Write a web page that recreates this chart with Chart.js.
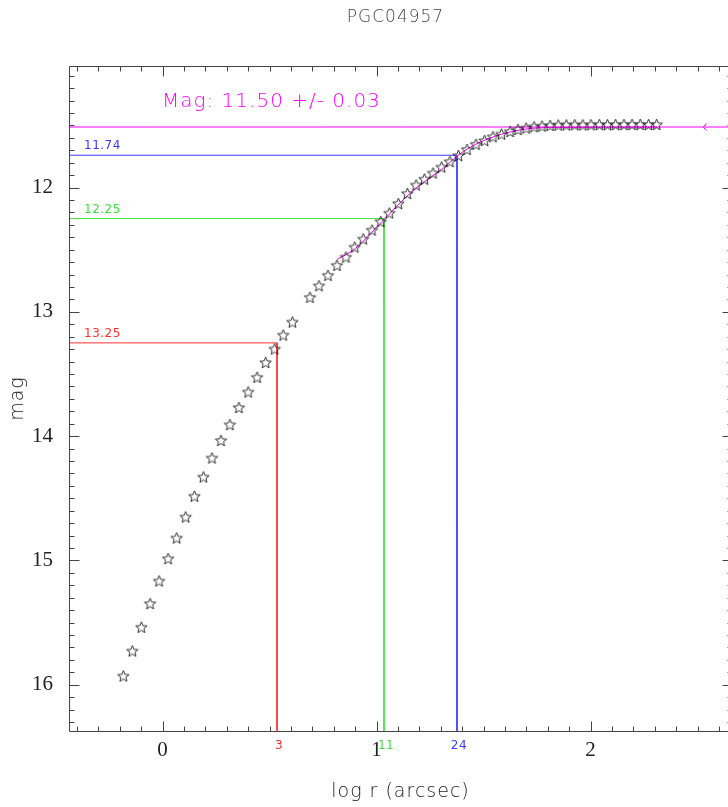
<!DOCTYPE html>
<html><head><meta charset="utf-8">
<script src="https://cdn.jsdelivr.net/npm/chart.js@4.4.1/dist/chart.umd.min.js"></script>
<style>html,body{margin:0;padding:0;overflow:hidden;background:#fff;width:728px;height:807px}canvas{display:block}</style>
</head><body>
<canvas id="c" width="740" height="807"></canvas>
<script>
// ---- data ----
const titleText = 'PGC04957';
const xTitle = 'log r (arcsec)';
const yTitle = 'mag';
const magLabel = 'Mag: 11.50 +/- 0.03';
const logR = [-0.183,-0.141,-0.099,-0.058,-0.016,0.026,0.066,0.108,0.149,0.191,0.231,0.273,0.315,0.357,0.400,0.442,0.482,0.524,0.564,0.607,
  0.689,0.731,0.773,0.815,0.857,0.898,0.938,0.979,1.020,1.060,1.102,1.144,1.185,1.224,1.264,1.304,1.343,1.383,1.423,1.465,1.505,1.544,1.584,1.624,1.661,1.699,1.736,
  1.773,1.811,1.849,1.887,1.926,1.964,2.002,2.041,2.079,2.117,2.156,2.194,2.232,2.271,2.309];
const mags = [15.930,15.729,15.538,15.348,15.166,14.986,14.820,14.651,14.484,14.329,14.176,14.035,13.908,13.770,13.645,13.527,13.408,13.299,13.187,13.082,
  12.883,12.790,12.706,12.626,12.559,12.479,12.414,12.342,12.274,12.205,12.129,12.048,11.980,11.932,11.883,11.835,11.791,11.743,11.693,11.652,11.622,11.591,11.570,11.549,11.533,11.521,11.511,
  11.505,11.500,11.497,11.496,11.495,11.496,11.495,11.494,11.495,11.494,11.494,11.493,11.493,11.494,11.493];
const fitLogR = [0.815,0.898,0.979,1.035,1.143,1.224,1.304,1.376,1.437,1.530,1.624,1.717,1.825,2.311];
const fitMag = [12.579,12.495,12.358,12.257,12.068,11.952,11.855,11.747,11.676,11.602,11.553,11.525,11.516,11.513];
const totalMag = 11.513;
const arrowLogR = 2.527;
const levelMag = [13.25, 12.25, 11.74];
const levelLogR = [0.535, 1.035, 1.376];
const levelMagText = ['13.25', '12.25', '11.74'];
const levelRadiusText = ['3', '11', '24'];
const xTicks = [0, 1, 2];
const yTicks = [12, 13, 14, 15, 16];
const xRange = [-0.437, 2.661];
const yRange = [11.022, 16.373];

// ---- styles ----
const levelColors = ['#ff3030', '#3ee03e', '#3a3aff'];
const magenta = '#ff00ff';
const frameColor = '#444';
const hersheyFont = '300 19px "DejaVu Sans"';

function makeStar() {
  const s = 15, c = document.createElement('canvas');
  c.width = s; c.height = s;
  const g = c.getContext('2d');
  g.strokeStyle = '#111'; g.lineWidth = 0.85;
  g.beginPath();
  const R = 6, r = 2.6, cx = s / 2, cy = s / 2 + 0.5;
  for (let i = 0; i < 10; i++) {
    const a = -Math.PI / 2 + i * Math.PI / 5;
    const rad = i % 2 ? r : R;
    const px = cx + rad * Math.cos(a), py = cy + rad * Math.sin(a);
    if (i) g.lineTo(px, py); else g.moveTo(px, py);
  }
  g.closePath(); g.stroke();
  return c;
}
const starImg = makeStar();

const datasets = [];
datasets.push({
  label: 'profile', data: logR.map((x, i) => ({x, y: mags[i]})),
  showLine: false, pointStyle: starImg, pointRadius: 6, pointHoverRadius: 6
});
datasets.push({
  label: 'fit', data: fitLogR.map((x, i) => ({x, y: fitMag[i]})),
  showLine: true, borderColor: magenta, borderWidth: 1, pointRadius: 0, cubicInterpolationMode: 'monotone'
});
datasets.push({
  label: 'total', data: [{x: xRange[0], y: totalMag}, {x: xRange[1], y: totalMag}],
  showLine: true, borderColor: magenta, borderWidth: 1, pointRadius: 0
});
levelMag.forEach((m, i) => {
  datasets.push({
    label: 'level' + i,
    data: [{x: xRange[0], y: m}, {x: levelLogR[i], y: m}, {x: levelLogR[i], y: yRange[1]}],
    showLine: true, borderColor: levelColors[i], borderWidth: 1, pointRadius: 0, tension: 0
  });
});

const decor = {
  id: 'decor',
  afterDraw(chart) {
    const ctx = chart.ctx, ca = chart.chartArea;
    const xs = chart.scales.x, ys = chart.scales.y;
    ctx.save();
    // frame
    ctx.strokeStyle = frameColor; ctx.lineWidth = 1;
    const L = Math.round(ca.left) + 0.5, R = Math.round(ca.right) + 0.5, T = Math.round(ca.top) + 0.5, B = Math.round(ca.bottom) + 0.5;
    ctx.beginPath();
    ctx.moveTo(L, T); ctx.lineTo(R, T); ctx.lineTo(R, B); ctx.lineTo(L, B); ctx.closePath();
    for (let k = -4; k <= 26; k++) {
      const v = k / 10, px = Math.round(xs.getPixelForValue(v)) + 0.5;
      const len = (k % 10 === 0) ? 10 : 5;
      ctx.moveTo(px, B); ctx.lineTo(px, B - len);
      ctx.moveTo(px, T); ctx.lineTo(px, T + len);
    }
    for (let k = 111; k <= 163; k++) {
      const v = k / 10, py = Math.round(ys.getPixelForValue(v)) + 0.5;
      const len = (k % 10 === 0) ? 10 : 5;
      ctx.moveTo(L, py); ctx.lineTo(L + len, py);
      ctx.moveTo(R, py); ctx.lineTo(R - len, py);
    }
    ctx.stroke();

    // arrow
    const ax = xs.getPixelForValue(arrowLogR), ay = ys.getPixelForValue(totalMag);
    ctx.strokeStyle = magenta; ctx.beginPath();
    ctx.moveTo(ax + 3, ay - 3.5); ctx.lineTo(ax, ay); ctx.lineTo(ax + 3, ay + 3.5); ctx.stroke();

    // texts
    ctx.letterSpacing = '1px';
    ctx.textAlign = 'center'; ctx.textBaseline = 'middle';
    ctx.fillStyle = '#444'; ctx.font = '300 17px "DejaVu Sans"';
    ctx.fillText(titleText, (ca.left + ca.right) / 2 - 5, 18);
    ctx.fillStyle = '#222'; ctx.font = hersheyFont;
    ctx.fillText(xTitle, (ca.left + ca.right) / 2, 792);
    ctx.save();
    ctx.translate(18, (ca.top + ca.bottom) / 2);
    ctx.rotate(-Math.PI / 2);
    ctx.fillText(yTitle, 0, 0);
    ctx.restore();

    ctx.textAlign = 'left'; ctx.textBaseline = 'alphabetic';
    ctx.fillStyle = magenta; ctx.font = '300 20px "DejaVu Sans"';
    ctx.fillText(magLabel, ca.left + 93, 107);

    ctx.font = '12px "DejaVu Sans"';
    ctx.letterSpacing = '0.5px';
    levelMag.forEach((m, i) => {
      ctx.fillStyle = levelColors[i];
      ctx.textAlign = 'left'; ctx.textBaseline = 'alphabetic';
      ctx.fillText(levelMagText[i], ca.left + 15, ys.getPixelForValue(m) - 6);
      ctx.textAlign = 'center'; ctx.textBaseline = 'middle';
      ctx.fillText(levelRadiusText[i], xs.getPixelForValue(levelLogR[i]) + 2, 746);
    });
    ctx.restore();
  }
};

new Chart(document.getElementById('c'), {
  type: 'scatter',
  data: {datasets},
  options: {
    responsive: false, animation: false, devicePixelRatio: 1,
    layout: {padding: {left: 0, top: 66, right: 8, bottom: 0}},
    plugins: {legend: {display: false}, tooltip: {enabled: false}, title: {display: false}},
    scales: {
      x: {
        type: 'linear', min: xRange[0], max: xRange[1],
        grid: {display: false, drawTicks: false}, border: {display: false},
        afterBuildTicks: s => { s.ticks = xTicks.map(v => ({value: v})); },
        afterFit: s => { s.height = 76; },
        ticks: {padding: 7, color: '#222', font: {family: 'Liberation Serif', size: 21}, callback: v => String(v)}
      },
      y: {
        type: 'linear', reverse: true, min: yRange[0], max: yRange[1],
        grid: {display: false, drawTicks: false}, border: {display: false},
        afterBuildTicks: s => { s.ticks = yTicks.map(v => ({value: v})); },
        afterFit: s => { s.width = 69; },
        ticks: {padding: 16, color: '#222', font: {family: 'Liberation Serif', size: 21}, callback: v => String(v)}
      }
    }
  },
  plugins: [decor]
});
</script>
</body></html>
